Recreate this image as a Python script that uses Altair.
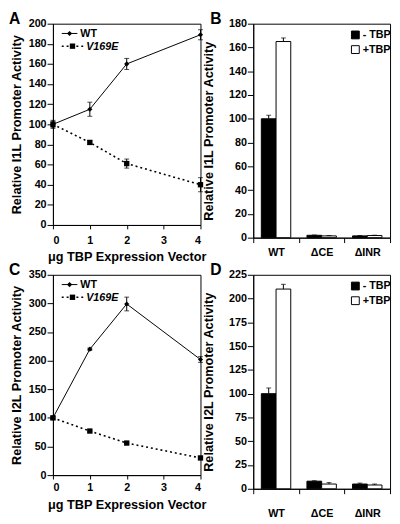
import altair as alt
import pandas as pd

# ---------------- data ----------------
doses = [0, 1, 2, 4]
series_names = ["WT", "V169E"]

a_wt = [100, 115, 160, 189]
a_wt_err = [4, 7, 5.5, 5]
a_mut = [100, 82, 61, 40]
a_mut_err = [3, 2, 4.5, 7]

c_wt = [100, 220, 299, 202]
c_wt_err = [3, 2, 12, 5]
c_mut = [100, 77, 56, 30]
c_mut_err = [2, 1.5, 1.5, 1.5]

constructs = ["WT", "ΔCE", "ΔINR"]
conditions = ["- TBP", "+TBP"]

b_minus = [100, 2, 1.5]
b_minus_err = [3, 0.3, 0.3]
b_plus = [165, 1.5, 1.8]
b_plus_err = [3, 0.3, 0.3]

d_minus = [100, 8, 5]
d_minus_err = [6, 0.5, 1]
d_plus = [210, 5, 4]
d_plus_err = [5, 1.5, 1]

FONT = "Liberation Sans"


def letter_layer(letter, dx, dy):
    return alt.Chart(pd.DataFrame({"t": [letter]})).mark_text(
        font=FONT, fontSize=16, fontWeight="bold", align="left",
        baseline="alphabetic", color="black"
    ).encode(x=alt.value(dx), y=alt.value(dy), text="t:N")


def line_panel(wt, wt_err, mut, mut_err, ytitle, ymax, ystep, h, letter,
               xlabpad, xtitley):
    rows = []
    for s, vals, errs in [(series_names[0], wt, wt_err), (series_names[1], mut, mut_err)]:
        for d, v, e in zip(doses, vals, errs):
            rows.append(dict(series=s, dose=d, value=v, lo=v - e, hi=v + e))
    df = pd.DataFrame(rows)
    xenc = alt.X("dose:Q", scale=alt.Scale(domain=[0, 4], nice=False, zero=False),
                 axis=alt.Axis(values=[0, 1, 2, 3, 4], format="d",
                               title="μg TBP Expression Vector",
                               labelPadding=xlabpad, titleY=xtitley, tickSize=4))
    ysc = alt.Scale(domain=[0, ymax], nice=False)
    yax = alt.Axis(values=list(range(0, ymax + 1, ystep)), title=ytitle, titleX=-30,
                   tickSize=6, labelPadding=1)
    base = alt.Chart(df)
    wt_line = base.transform_filter(alt.datum.series == "WT").mark_line(
        color="black", strokeWidth=1).encode(
        x=xenc, y=alt.Y("value:Q", scale=ysc, axis=yax))
    mut_line = base.transform_filter(alt.datum.series == "V169E").mark_line(
        color="black", strokeWidth=1.6, strokeDash=[2, 3]).encode(
        x=xenc, y=alt.Y("value:Q", scale=ysc, axis=yax))
    err = base.mark_rule(color="black", strokeWidth=1).encode(
        x=xenc, y=alt.Y("lo:Q", scale=ysc, axis=yax), y2="hi:Q")
    cap_lo = base.mark_tick(orient="horizontal", size=5, thickness=1, color="black").encode(
        x=xenc, y=alt.Y("lo:Q", scale=ysc, axis=yax))
    cap_hi = base.mark_tick(orient="horizontal", size=5, thickness=1, color="black").encode(
        x=xenc, y=alt.Y("hi:Q", scale=ysc, axis=yax))
    wt_pts = base.transform_filter(alt.datum.series == "WT").mark_point(
        shape="diamond", filled=True, size=28, color="black", opacity=1).encode(
        x=xenc, y=alt.Y("value:Q", scale=ysc, axis=yax))
    mut_pts = base.transform_filter(alt.datum.series == "V169E").mark_point(
        shape="square", filled=True, size=30, color="black", opacity=1).encode(
        x=xenc, y=alt.Y("value:Q", scale=ysc, axis=yax))

    one = pd.DataFrame({"t": [series_names[0]]})
    two = pd.DataFrame({"t": [series_names[1]]})
    leg = [
        alt.Chart(one).mark_rule(color="black", strokeWidth=1).encode(
            x=alt.value(9), x2=alt.value(25), y=alt.value(10)),
        alt.Chart(one).mark_point(shape="diamond", filled=True, size=28, color="black", opacity=1).encode(
            x=alt.value(17), y=alt.value(10)),
        alt.Chart(one).mark_text(font=FONT, fontSize=11, fontWeight="bold", align="left",
                                 baseline="middle", color="black").encode(
            x=alt.value(28), y=alt.value(10.5), text="t:N"),
        alt.Chart(two).mark_rule(color="black", strokeWidth=1.6, strokeDash=[2, 3]).encode(
            x=alt.value(9), x2=alt.value(31), y=alt.value(23)),
        alt.Chart(two).mark_point(shape="square", filled=True, size=30, color="black", opacity=1).encode(
            x=alt.value(20), y=alt.value(23)),
        alt.Chart(two).mark_text(font=FONT, fontSize=11, fontWeight="bold", fontStyle="italic",
                                 align="left", baseline="middle", color="black").encode(
            x=alt.value(34), y=alt.value(23.5), text="t:N"),
    ]
    return alt.layer(wt_line, mut_line, err, cap_lo, cap_hi, wt_pts, mut_pts, *leg,
                     letter_layer(letter, -45, 0)).properties(width=151, height=h)


def bar_panel(minus, minus_err, plus, plus_err, ytitle, ymax, ystep, h, letter, xlabpad):
    rows = []
    for cond, vals, errs in [(conditions[0], minus, minus_err), (conditions[1], plus, plus_err)]:
        for c, v, e in zip(constructs, vals, errs):
            rows.append(dict(construct=c, cond=cond, value=v, hi=v + e))
    df = pd.DataFrame(rows)
    xenc = alt.X("construct:N", sort=constructs,
                 scale=alt.Scale(paddingInner=0, paddingOuter=0),
                 axis=alt.Axis(title=None, labelAngle=0, tickBand="extent",
                               labelPadding=xlabpad, tickSize=5))
    xo = alt.XOffset("cond:N", sort=conditions,
                     scale=alt.Scale(paddingInner=0, paddingOuter=0.55))
    ysc = alt.Scale(domain=[0, ymax], nice=False)
    yax = alt.Axis(values=list(range(0, ymax + 1, ystep)), title=ytitle, titleX=-39,
                   tickSize=6, labelPadding=1)
    base = alt.Chart(df)
    bars = base.mark_bar(stroke="black", strokeWidth=1).encode(
        x=xenc, xOffset=xo,
        y=alt.Y("value:Q", scale=ysc, axis=yax),
        color=alt.Color("cond:N", sort=conditions,
                        scale=alt.Scale(domain=conditions, range=["black", "white"]),
                        legend=alt.Legend(title=None, orient="none", legendX=99, legendY=6,
                                          symbolType="square", symbolSize=64,
                                          symbolStrokeColor="black", symbolStrokeWidth=1,
                                          labelFont=FONT, labelFontSize=11,
                                          labelFontWeight="bold", labelColor="black",
                                          rowPadding=2, labelOffset=2, padding=0)))
    err = base.mark_rule(color="black", strokeWidth=1).encode(
        x=xenc, xOffset=xo, y=alt.Y("value:Q", scale=ysc, axis=yax), y2="hi:Q")
    cap = base.mark_tick(orient="horizontal", size=5, thickness=1, color="black").encode(
        x=xenc, xOffset=xo, y=alt.Y("hi:Q", scale=ysc, axis=yax))
    return alt.layer(bars, err, cap, letter_layer(letter, -44, 0)).properties(width=140, height=h)


pa = line_panel(a_wt, a_wt_err, a_mut, a_mut_err, "Relative I1L Promoter Activity",
                200, 20, 206, "A", 6, 26)
pb = bar_panel(b_minus, b_minus_err, b_plus, b_plus_err, "Relative I1L Promoter Activity",
               180, 20, 219, "B", 4)
pc = line_panel(c_wt, c_wt_err, c_mut, c_mut_err, "Relative I2L Promoter Activity",
                350, 50, 205, "C", 3, 24)
pd_ = bar_panel(d_minus, d_minus_err, d_plus, d_plus_err, "Relative I2L Promoter Activity",
                225, 25, 219, "D", 14)

chart = alt.concat(
    pa, pb, pc, pd_, columns=2, spacing={"row": 38, "column": 54}, bounds="flush"
).resolve_scale(color="independent").resolve_legend(color="independent").properties(
    padding={"top": -4, "left": 0, "right": 0, "bottom": 0}, background="white"
).configure_view(stroke="black", strokeWidth=1).configure_axis(
    labelFont=FONT, labelFontWeight="bold", labelFontSize=11, labelColor="black",
    titleFont=FONT, titleFontWeight="bold", titleFontSize=13, titleColor="black",
    domainColor="black", tickColor="black", grid=False, domainWidth=1, tickWidth=1
)

chart.save("out.html", embed_options={"renderer": "svg", "actions": False})
